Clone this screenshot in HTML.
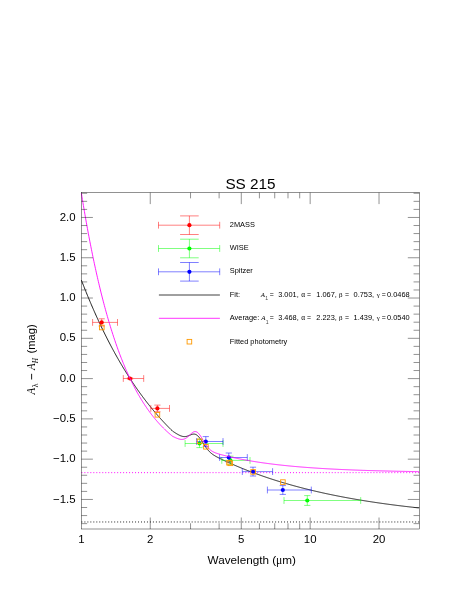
<!DOCTYPE html>
<html><head><meta charset="utf-8"><title>SS 215</title>
<style>html,body{margin:0;padding:0;background:#fff;}svg{display:block;will-change:transform;}</style></head>
<body>
<svg width="457" height="591" viewBox="0 0 457 591">
<rect x="0" y="0" width="457" height="591" fill="#fff"/>
<line x1="81.40" y1="521.97" x2="419.30" y2="521.97" stroke="#000" stroke-width="0.85" stroke-dasharray="1.0 1.98"/>
<line x1="81.40" y1="472.65" x2="419.30" y2="472.65" stroke="#f0f" stroke-width="0.95" stroke-dasharray="1.0 1.98"/>
<path d="M81.40,280.18 L81.90,281.48 L82.40,282.77 L82.90,284.05 L83.40,285.32 L83.90,286.59 L84.40,287.85 L84.90,289.10 L85.40,290.35 L85.90,291.59 L86.40,292.82 L86.90,294.05 L87.40,295.27 L87.90,296.49 L88.40,297.69 L88.90,298.89 L89.40,300.09 L89.90,301.28 L90.40,302.46 L90.90,303.64 L91.40,304.80 L91.90,305.97 L92.40,307.12 L92.90,308.28 L93.40,309.42 L93.90,310.56 L94.40,311.69 L94.90,312.82 L95.40,313.94 L95.90,315.05 L96.40,316.16 L96.90,317.26 L97.40,318.36 L97.90,319.45 L98.40,320.53 L98.90,321.61 L99.40,322.69 L99.90,323.75 L100.40,324.81 L100.90,325.87 L101.40,326.92 L101.90,327.96 L102.40,329.00 L102.90,330.04 L103.40,331.07 L103.90,332.09 L104.40,333.10 L104.90,334.12 L105.40,335.12 L105.90,336.12 L106.40,337.12 L106.90,338.11 L107.40,339.09 L107.90,340.07 L108.40,341.05 L108.90,342.02 L109.40,342.98 L109.90,343.94 L110.40,344.89 L110.90,345.84 L111.40,346.78 L111.90,347.72 L112.40,348.65 L112.90,349.58 L113.40,350.51 L113.90,351.42 L114.40,352.34 L114.90,353.25 L115.40,354.15 L115.90,355.05 L116.40,355.94 L116.90,356.83 L117.40,357.72 L117.90,358.60 L118.40,359.47 L118.90,360.34 L119.40,361.21 L119.90,362.07 L120.40,362.92 L120.90,363.78 L121.40,364.62 L121.90,365.47 L122.40,366.30 L122.90,367.14 L123.40,367.97 L123.90,368.79 L124.40,369.61 L124.90,370.43 L125.40,371.24 L125.90,372.05 L126.40,372.85 L126.90,373.65 L127.40,374.44 L127.90,375.23 L128.40,376.02 L128.90,376.80 L129.40,377.58 L129.90,378.35 L130.40,379.12 L130.90,379.89 L131.40,380.65 L131.90,381.40 L132.40,382.16 L132.90,382.91 L133.40,383.65 L133.90,384.39 L134.40,385.13 L134.90,385.86 L135.40,386.59 L135.90,387.32 L136.40,388.04 L136.90,388.75 L137.40,389.47 L137.90,390.18 L138.40,390.88 L138.90,391.58 L139.40,392.28 L139.90,392.98 L140.40,393.67 L140.90,394.36 L141.40,395.04 L141.90,395.72 L142.40,396.39 L142.90,397.07 L143.40,397.74 L143.90,398.40 L144.40,399.06 L144.90,399.72 L145.40,400.38 L145.90,401.03 L146.40,401.68 L146.90,402.32 L147.40,402.96 L147.90,403.60 L148.40,404.23 L148.90,404.86 L149.40,405.49 L149.90,406.11 L150.40,406.73 L150.90,407.35 L151.40,407.97 L151.90,408.58 L152.40,409.18 L152.90,409.79 L153.40,410.39 L153.90,410.99 L154.40,411.58 L154.90,412.17 L155.40,412.76 L155.90,413.34 L156.40,413.93 L156.90,414.50 L157.40,415.08 L157.90,415.65 L158.40,416.22 L158.90,416.79 L159.40,417.35 L159.90,417.91 L160.40,418.47 L160.90,419.02 L161.40,419.58 L161.90,420.12 L162.40,420.67 L162.90,421.21 L163.40,421.75 L163.90,422.29 L164.40,422.82 L164.90,423.35 L165.40,423.88 L165.90,424.41 L166.40,424.93 L166.90,425.45 L167.40,425.96 L167.90,426.48 L168.40,426.99 L168.90,427.50 L169.40,428.00 L169.90,428.50 L170.40,429.00 L170.90,429.50 L171.40,429.99 L171.90,430.48 L172.40,430.97 L172.90,431.31 L173.40,431.65 L173.90,431.98 L174.40,432.31 L174.90,432.64 L175.40,432.96 L175.90,433.27 L176.40,433.58 L176.90,433.88 L177.40,434.17 L177.90,434.46 L178.40,434.73 L178.90,434.99 L179.40,435.24 L179.90,435.47 L180.40,435.69 L180.90,435.89 L181.40,436.06 L181.90,436.22 L182.40,436.35 L182.90,436.46 L183.40,436.54 L183.90,436.59 L184.40,436.61 L184.90,436.60 L185.40,436.57 L185.90,436.50 L186.40,436.41 L186.90,436.29 L187.40,436.14 L187.90,435.98 L188.40,435.79 L188.90,435.60 L189.40,435.39 L189.90,435.18 L190.40,434.97 L190.90,434.77 L191.40,434.58 L191.90,434.42 L192.40,434.28 L192.90,434.17 L193.40,434.11 L193.90,434.09 L194.40,434.12 L194.90,434.20 L195.40,434.34 L195.90,434.55 L196.40,434.81 L196.90,435.14 L197.40,435.53 L197.90,435.97 L198.40,436.48 L198.90,437.04 L199.40,437.65 L199.90,438.30 L200.40,438.99 L200.90,439.71 L201.40,440.46 L201.90,441.23 L202.40,442.01 L202.90,442.79 L203.40,443.58 L203.90,444.36 L204.40,445.13 L204.90,445.89 L205.40,446.62 L205.90,447.34 L206.40,448.03 L206.90,448.69 L207.40,449.32 L207.90,449.93 L208.40,450.51 L208.90,451.05 L209.40,451.57 L209.90,452.06 L210.40,452.53 L210.90,452.97 L211.40,453.39 L211.90,453.78 L212.40,454.16 L212.90,454.52 L213.40,454.86 L213.90,455.19 L214.40,455.51 L214.90,455.81 L215.40,456.11 L215.90,456.39 L216.40,456.67 L216.90,456.94 L217.40,457.21 L217.90,457.47 L218.40,457.73 L218.90,457.98 L219.40,458.23 L219.90,458.48 L220.40,458.72 L220.90,458.97 L221.40,459.21 L221.90,459.45 L222.40,459.69 L222.90,459.92 L223.40,460.16 L223.90,460.39 L224.40,460.63 L224.90,460.86 L225.40,461.09 L225.90,461.32 L226.40,461.55 L226.90,461.78 L227.40,462.01 L227.90,462.23 L228.40,462.46 L228.90,462.69 L229.40,462.91 L229.90,463.13 L230.40,463.36 L230.90,463.58 L231.40,463.80 L231.90,464.02 L232.40,464.24 L232.90,464.46 L233.40,464.67 L233.90,464.89 L234.40,465.11 L234.90,465.32 L235.40,465.54 L235.90,465.75 L236.40,465.96 L236.90,466.17 L237.40,466.39 L237.90,466.60 L238.40,466.81 L238.90,467.01 L239.40,467.22 L239.90,467.43 L240.40,467.63 L240.90,467.84 L241.40,468.05 L241.90,468.25 L242.40,468.45 L242.90,468.65 L243.40,468.86 L243.90,469.06 L244.40,469.26 L244.90,469.46 L245.40,469.66 L245.90,469.85 L246.40,470.05 L246.90,470.25 L247.40,470.44 L247.90,470.64 L248.40,470.83 L248.90,471.03 L249.40,471.22 L249.90,471.41 L250.40,471.60 L250.90,471.79 L251.40,471.98 L251.90,472.17 L252.40,472.36 L252.90,472.55 L253.40,472.73 L253.90,472.92 L254.40,473.11 L254.90,473.29 L255.40,473.47 L255.90,473.66 L256.40,473.84 L256.90,474.02 L257.40,474.20 L257.90,474.38 L258.40,474.56 L258.90,474.74 L259.40,474.92 L259.90,475.10 L260.40,475.28 L260.90,475.45 L261.40,475.63 L261.90,475.81 L262.40,475.98 L262.90,476.15 L263.40,476.33 L263.90,476.50 L264.40,476.67 L264.90,476.84 L265.40,477.01 L265.90,477.18 L266.40,477.35 L266.90,477.52 L267.40,477.69 L267.90,477.86 L268.40,478.03 L268.90,478.19 L269.40,478.36 L269.90,478.52 L270.40,478.69 L270.90,478.85 L271.40,479.01 L271.90,479.18 L272.40,479.34 L272.90,479.50 L273.40,479.66 L273.90,479.82 L274.40,479.98 L274.90,480.14 L275.40,480.30 L275.90,480.45 L276.40,480.61 L276.90,480.77 L277.40,480.92 L277.90,481.08 L278.40,481.23 L278.90,481.39 L279.40,481.54 L279.90,481.69 L280.40,481.85 L280.90,482.00 L281.40,482.15 L281.90,482.30 L282.40,482.45 L282.90,482.60 L283.40,482.75 L283.90,482.90 L284.40,483.04 L284.90,483.19 L285.40,483.34 L285.90,483.48 L286.40,483.63 L286.90,483.78 L287.40,483.92 L287.90,484.06 L288.40,484.21 L288.90,484.35 L289.40,484.49 L289.90,484.63 L290.40,484.78 L290.90,484.92 L291.40,485.06 L291.90,485.20 L292.40,485.33 L292.90,485.47 L293.40,485.61 L293.90,485.75 L294.40,485.89 L294.90,486.02 L295.40,486.16 L295.90,486.29 L296.40,486.43 L296.90,486.56 L297.40,486.70 L297.90,486.83 L298.40,486.96 L298.90,487.10 L299.40,487.23 L299.90,487.36 L300.40,487.49 L300.90,487.62 L301.40,487.75 L301.90,487.88 L302.40,488.01 L302.90,488.14 L303.40,488.27 L303.90,488.39 L304.40,488.52 L304.90,488.65 L305.40,488.77 L305.90,488.90 L306.40,489.02 L306.90,489.15 L307.40,489.27 L307.90,489.40 L308.40,489.52 L308.90,489.64 L309.40,489.76 L309.90,489.89 L310.40,490.01 L310.90,490.13 L311.40,490.25 L311.90,490.37 L312.40,490.49 L312.90,490.61 L313.40,490.73 L313.90,490.84 L314.40,490.96 L314.90,491.08 L315.40,491.20 L315.90,491.31 L316.40,491.43 L316.90,491.54 L317.40,491.66 L317.90,491.77 L318.40,491.89 L318.90,492.00 L319.40,492.12 L319.90,492.23 L320.40,492.34 L320.90,492.45 L321.40,492.56 L321.90,492.68 L322.40,492.79 L322.90,492.90 L323.40,493.01 L323.90,493.12 L324.40,493.23 L324.90,493.33 L325.40,493.44 L325.90,493.55 L326.40,493.66 L326.90,493.77 L327.40,493.87 L327.90,493.98 L328.40,494.08 L328.90,494.19 L329.40,494.29 L329.90,494.40 L330.40,494.50 L330.90,494.61 L331.40,494.71 L331.90,494.81 L332.40,494.92 L332.90,495.02 L333.40,495.12 L333.90,495.22 L334.40,495.32 L334.90,495.42 L335.40,495.53 L335.90,495.63 L336.40,495.72 L336.90,495.82 L337.40,495.92 L337.90,496.02 L338.40,496.12 L338.90,496.22 L339.40,496.31 L339.90,496.41 L340.40,496.51 L340.90,496.60 L341.40,496.70 L341.90,496.80 L342.40,496.89 L342.90,496.99 L343.40,497.08 L343.90,497.18 L344.40,497.27 L344.90,497.36 L345.40,497.46 L345.90,497.55 L346.40,497.64 L346.90,497.73 L347.40,497.82 L347.90,497.92 L348.40,498.01 L348.90,498.10 L349.40,498.19 L349.90,498.28 L350.40,498.37 L350.90,498.46 L351.40,498.55 L351.90,498.63 L352.40,498.72 L352.90,498.81 L353.40,498.90 L353.90,498.99 L354.40,499.07 L354.90,499.16 L355.40,499.25 L355.90,499.33 L356.40,499.42 L356.90,499.50 L357.40,499.59 L357.90,499.67 L358.40,499.76 L358.90,499.84 L359.40,499.92 L359.90,500.01 L360.40,500.09 L360.90,500.17 L361.40,500.26 L361.90,500.34 L362.40,500.42 L362.90,500.50 L363.40,500.58 L363.90,500.66 L364.40,500.74 L364.90,500.82 L365.40,500.90 L365.90,500.98 L366.40,501.06 L366.90,501.14 L367.40,501.22 L367.90,501.30 L368.40,501.38 L368.90,501.46 L369.40,501.53 L369.90,501.61 L370.40,501.69 L370.90,501.76 L371.40,501.84 L371.90,501.92 L372.40,501.99 L372.90,502.07 L373.40,502.14 L373.90,502.22 L374.40,502.29 L374.90,502.37 L375.40,502.44 L375.90,502.52 L376.40,502.59 L376.90,502.66 L377.40,502.74 L377.90,502.81 L378.40,502.88 L378.90,502.95 L379.40,503.03 L379.90,503.10 L380.40,503.17 L380.90,503.24 L381.40,503.31 L381.90,503.38 L382.40,503.45 L382.90,503.52 L383.40,503.59 L383.90,503.66 L384.40,503.73 L384.90,503.80 L385.40,503.87 L385.90,503.94 L386.40,504.00 L386.90,504.07 L387.40,504.14 L387.90,504.21 L388.40,504.27 L388.90,504.34 L389.40,504.41 L389.90,504.47 L390.40,504.54 L390.90,504.61 L391.40,504.67 L391.90,504.74 L392.40,504.80 L392.90,504.87 L393.40,504.93 L393.90,505.00 L394.40,505.06 L394.90,505.13 L395.40,505.19 L395.90,505.25 L396.40,505.32 L396.90,505.38 L397.40,505.44 L397.90,505.50 L398.40,505.57 L398.90,505.63 L399.40,505.69 L399.90,505.75 L400.40,505.81 L400.90,505.87 L401.40,505.94 L401.90,506.00 L402.40,506.06 L402.90,506.12 L403.40,506.18 L403.90,506.24 L404.40,506.30 L404.90,506.36 L405.40,506.41 L405.90,506.47 L406.40,506.53 L406.90,506.59 L407.40,506.65 L407.90,506.71 L408.40,506.76 L408.90,506.82 L409.40,506.88 L409.90,506.94 L410.40,506.99 L410.90,507.05 L411.40,507.11 L411.90,507.16 L412.40,507.22 L412.90,507.27 L413.40,507.33 L413.90,507.39 L414.40,507.44 L414.90,507.50 L415.40,507.55 L415.90,507.60 L416.40,507.66 L416.90,507.71 L417.40,507.77 L417.90,507.82 L418.40,507.87 L418.90,507.93" fill="none" stroke="#000" stroke-width="0.88" stroke-linejoin="round"/>
<line x1="92.60" y1="322.40" x2="117.50" y2="322.40" stroke="#f00" stroke-width="0.5" />
<line x1="92.60" y1="319.00" x2="92.60" y2="325.80" stroke="#f00" stroke-width="0.5" />
<line x1="117.50" y1="319.00" x2="117.50" y2="325.80" stroke="#f00" stroke-width="0.5" />
<line x1="101.70" y1="318.80" x2="101.70" y2="326.00" stroke="#f00" stroke-width="0.5" />
<line x1="98.60" y1="318.80" x2="104.80" y2="318.80" stroke="#f00" stroke-width="0.5" />
<line x1="98.60" y1="326.00" x2="104.80" y2="326.00" stroke="#f00" stroke-width="0.5" />
<circle cx="101.70" cy="322.40" r="2.1" fill="#f00"/>
<line x1="123.30" y1="378.50" x2="143.70" y2="378.50" stroke="#f00" stroke-width="0.5" />
<line x1="123.30" y1="375.10" x2="123.30" y2="381.90" stroke="#f00" stroke-width="0.5" />
<line x1="143.70" y1="375.10" x2="143.70" y2="381.90" stroke="#f00" stroke-width="0.5" />
<line x1="130.00" y1="377.90" x2="130.00" y2="379.10" stroke="#f00" stroke-width="0.5" />
<line x1="126.90" y1="377.90" x2="133.10" y2="377.90" stroke="#f00" stroke-width="0.5" />
<line x1="126.90" y1="379.10" x2="133.10" y2="379.10" stroke="#f00" stroke-width="0.5" />
<circle cx="130.00" cy="378.50" r="2.1" fill="#f00"/>
<line x1="150.80" y1="408.40" x2="169.50" y2="408.40" stroke="#f00" stroke-width="0.5" />
<line x1="150.80" y1="405.00" x2="150.80" y2="411.80" stroke="#f00" stroke-width="0.5" />
<line x1="169.50" y1="405.00" x2="169.50" y2="411.80" stroke="#f00" stroke-width="0.5" />
<line x1="157.40" y1="405.10" x2="157.40" y2="411.70" stroke="#f00" stroke-width="0.5" />
<line x1="154.30" y1="405.10" x2="160.50" y2="405.10" stroke="#f00" stroke-width="0.5" />
<line x1="154.30" y1="411.70" x2="160.50" y2="411.70" stroke="#f00" stroke-width="0.5" />
<circle cx="157.40" cy="408.40" r="2.1" fill="#f00"/>
<line x1="185.10" y1="443.50" x2="223.00" y2="443.50" stroke="#0f0" stroke-width="0.5" />
<line x1="185.10" y1="440.10" x2="185.10" y2="446.90" stroke="#0f0" stroke-width="0.5" />
<line x1="223.00" y1="440.10" x2="223.00" y2="446.90" stroke="#0f0" stroke-width="0.5" />
<line x1="199.50" y1="439.40" x2="199.50" y2="447.60" stroke="#0f0" stroke-width="0.5" />
<line x1="196.40" y1="439.40" x2="202.60" y2="439.40" stroke="#0f0" stroke-width="0.5" />
<line x1="196.40" y1="447.60" x2="202.60" y2="447.60" stroke="#0f0" stroke-width="0.5" />
<circle cx="199.50" cy="443.50" r="2.1" fill="#0f0"/>
<line x1="221.80" y1="460.40" x2="250.00" y2="460.40" stroke="#0f0" stroke-width="0.5" />
<line x1="221.80" y1="457.00" x2="221.80" y2="463.80" stroke="#0f0" stroke-width="0.5" />
<line x1="250.00" y1="457.00" x2="250.00" y2="463.80" stroke="#0f0" stroke-width="0.5" />
<line x1="230.40" y1="456.20" x2="230.40" y2="464.60" stroke="#0f0" stroke-width="0.5" />
<line x1="227.30" y1="456.20" x2="233.50" y2="456.20" stroke="#0f0" stroke-width="0.5" />
<line x1="227.30" y1="464.60" x2="233.50" y2="464.60" stroke="#0f0" stroke-width="0.5" />
<circle cx="230.40" cy="460.40" r="2.1" fill="#0f0"/>
<line x1="284.00" y1="500.50" x2="360.70" y2="500.50" stroke="#0f0" stroke-width="0.5" />
<line x1="284.00" y1="497.10" x2="284.00" y2="503.90" stroke="#0f0" stroke-width="0.5" />
<line x1="360.70" y1="497.10" x2="360.70" y2="503.90" stroke="#0f0" stroke-width="0.5" />
<line x1="307.30" y1="495.60" x2="307.30" y2="505.40" stroke="#0f0" stroke-width="0.5" />
<line x1="304.20" y1="495.60" x2="310.40" y2="495.60" stroke="#0f0" stroke-width="0.5" />
<line x1="304.20" y1="505.40" x2="310.40" y2="505.40" stroke="#0f0" stroke-width="0.5" />
<circle cx="307.30" cy="500.50" r="2.1" fill="#0f0"/>
<line x1="196.60" y1="441.50" x2="223.00" y2="441.50" stroke="#00f" stroke-width="0.5" />
<line x1="196.60" y1="438.10" x2="196.60" y2="444.90" stroke="#00f" stroke-width="0.5" />
<line x1="223.00" y1="438.10" x2="223.00" y2="444.90" stroke="#00f" stroke-width="0.5" />
<line x1="205.80" y1="436.60" x2="205.80" y2="446.40" stroke="#00f" stroke-width="0.5" />
<line x1="202.70" y1="436.60" x2="208.90" y2="436.60" stroke="#00f" stroke-width="0.5" />
<line x1="202.70" y1="446.40" x2="208.90" y2="446.40" stroke="#00f" stroke-width="0.5" />
<circle cx="205.80" cy="441.50" r="2.1" fill="#00f"/>
<line x1="219.60" y1="457.50" x2="247.30" y2="457.50" stroke="#00f" stroke-width="0.5" />
<line x1="219.60" y1="454.10" x2="219.60" y2="460.90" stroke="#00f" stroke-width="0.5" />
<line x1="247.30" y1="454.10" x2="247.30" y2="460.90" stroke="#00f" stroke-width="0.5" />
<line x1="228.80" y1="453.00" x2="228.80" y2="462.00" stroke="#00f" stroke-width="0.5" />
<line x1="225.70" y1="453.00" x2="231.90" y2="453.00" stroke="#00f" stroke-width="0.5" />
<line x1="225.70" y1="462.00" x2="231.90" y2="462.00" stroke="#00f" stroke-width="0.5" />
<circle cx="228.80" cy="457.50" r="2.1" fill="#00f"/>
<line x1="242.30" y1="471.60" x2="272.60" y2="471.60" stroke="#00f" stroke-width="0.5" />
<line x1="242.30" y1="468.20" x2="242.30" y2="475.00" stroke="#00f" stroke-width="0.5" />
<line x1="272.60" y1="468.20" x2="272.60" y2="475.00" stroke="#00f" stroke-width="0.5" />
<line x1="253.00" y1="467.20" x2="253.00" y2="476.00" stroke="#00f" stroke-width="0.5" />
<line x1="249.90" y1="467.20" x2="256.10" y2="467.20" stroke="#00f" stroke-width="0.5" />
<line x1="249.90" y1="476.00" x2="256.10" y2="476.00" stroke="#00f" stroke-width="0.5" />
<circle cx="253.00" cy="471.60" r="2.1" fill="#00f"/>
<line x1="267.40" y1="490.00" x2="311.30" y2="490.00" stroke="#00f" stroke-width="0.5" />
<line x1="267.40" y1="486.60" x2="267.40" y2="493.40" stroke="#00f" stroke-width="0.5" />
<line x1="311.30" y1="486.60" x2="311.30" y2="493.40" stroke="#00f" stroke-width="0.5" />
<line x1="282.80" y1="485.60" x2="282.80" y2="494.40" stroke="#00f" stroke-width="0.5" />
<line x1="279.70" y1="485.60" x2="285.90" y2="485.60" stroke="#00f" stroke-width="0.5" />
<line x1="279.70" y1="494.40" x2="285.90" y2="494.40" stroke="#00f" stroke-width="0.5" />
<circle cx="282.80" cy="490.00" r="2.1" fill="#00f"/>
<path d="M81.40,193.24 L81.90,196.35 L82.40,199.42 L82.90,202.46 L83.40,205.47 L83.90,208.44 L84.40,211.38 L84.90,214.28 L85.40,217.16 L85.90,220.00 L86.40,222.81 L86.90,225.59 L87.40,228.34 L87.90,231.06 L88.40,233.75 L88.90,236.41 L89.40,239.03 L89.90,241.63 L90.40,244.20 L90.90,246.74 L91.40,249.26 L91.90,251.74 L92.40,254.20 L92.90,256.63 L93.40,259.04 L93.90,261.41 L94.40,263.76 L94.90,266.09 L95.40,268.38 L95.90,270.66 L96.40,272.90 L96.90,275.13 L97.40,277.32 L97.90,279.50 L98.40,281.65 L98.90,283.77 L99.40,285.87 L99.90,287.95 L100.40,290.01 L100.90,292.04 L101.40,294.05 L101.90,296.03 L102.40,298.00 L102.90,299.94 L103.40,301.86 L103.90,303.76 L104.40,305.64 L104.90,307.50 L105.40,309.34 L105.90,311.16 L106.40,312.95 L106.90,314.73 L107.40,316.49 L107.90,318.22 L108.40,319.94 L108.90,321.64 L109.40,323.32 L109.90,324.98 L110.40,326.63 L110.90,328.25 L111.40,329.86 L111.90,331.45 L112.40,333.02 L112.90,334.57 L113.40,336.11 L113.90,337.63 L114.40,339.13 L114.90,340.61 L115.40,342.08 L115.90,343.54 L116.40,344.97 L116.90,346.39 L117.40,347.80 L117.90,349.19 L118.40,350.56 L118.90,351.92 L119.40,353.26 L119.90,354.59 L120.40,355.90 L120.90,357.20 L121.40,358.49 L121.90,359.76 L122.40,361.01 L122.90,362.25 L123.40,363.48 L123.90,364.70 L124.40,365.90 L124.90,367.09 L125.40,368.26 L125.90,369.42 L126.40,370.57 L126.90,371.71 L127.40,372.83 L127.90,373.94 L128.40,375.04 L128.90,376.12 L129.40,377.20 L129.90,378.26 L130.40,379.31 L130.90,380.35 L131.40,381.38 L131.90,382.39 L132.40,383.40 L132.90,384.39 L133.40,385.37 L133.90,386.34 L134.40,387.30 L134.90,388.25 L135.40,389.19 L135.90,390.12 L136.40,391.04 L136.90,391.95 L137.40,392.84 L137.90,393.73 L138.40,394.61 L138.90,395.48 L139.40,396.34 L139.90,397.19 L140.40,398.03 L140.90,398.86 L141.40,399.68 L141.90,400.49 L142.40,401.29 L142.90,402.09 L143.40,402.87 L143.90,403.65 L144.40,404.41 L144.90,405.17 L145.40,405.92 L145.90,406.67 L146.40,407.40 L146.90,408.13 L147.40,408.85 L147.90,409.56 L148.40,410.26 L148.90,410.95 L149.40,411.64 L149.90,412.32 L150.40,412.99 L150.90,413.65 L151.40,414.31 L151.90,414.96 L152.40,415.60 L152.90,416.23 L153.40,416.86 L153.90,417.48 L154.40,418.10 L154.90,418.70 L155.40,419.30 L155.90,419.90 L156.40,420.48 L156.90,421.06 L157.40,421.64 L157.90,422.21 L158.40,422.77 L158.90,423.32 L159.40,423.87 L159.90,424.41 L160.40,424.95 L160.90,425.48 L161.40,426.01 L161.90,426.52 L162.40,427.04 L162.90,427.55 L163.40,428.05 L163.90,428.54 L164.40,429.03 L164.90,429.52 L165.40,430.00 L165.90,430.47 L166.40,430.94 L166.90,431.41 L167.40,431.87 L167.90,432.32 L168.40,432.77 L168.90,433.21 L169.40,433.65 L169.90,434.08 L170.40,434.51 L170.90,434.93 L171.40,435.34 L171.90,435.75 L172.40,436.16 L172.90,436.42 L173.40,436.68 L173.90,436.92 L174.40,437.17 L174.90,437.40 L175.40,437.63 L175.90,437.85 L176.40,438.07 L176.90,438.27 L177.40,438.47 L177.90,438.65 L178.40,438.82 L178.90,438.97 L179.40,439.10 L179.90,439.21 L180.40,439.30 L180.90,439.37 L181.40,439.41 L181.90,439.42 L182.40,439.40 L182.90,439.34 L183.40,439.25 L183.90,439.12 L184.40,438.95 L184.90,438.74 L185.40,438.50 L185.90,438.21 L186.40,437.89 L186.90,437.53 L187.40,437.14 L187.90,436.72 L188.40,436.28 L188.90,435.82 L189.40,435.35 L189.90,434.87 L190.40,434.39 L190.90,433.92 L191.40,433.48 L191.90,433.06 L192.40,432.68 L192.90,432.34 L193.40,432.05 L193.90,431.83 L194.40,431.67 L194.90,431.59 L195.40,431.58 L195.90,431.66 L196.40,431.81 L196.90,432.05 L197.40,432.37 L197.90,432.77 L198.40,433.25 L198.90,433.80 L199.40,434.42 L199.90,435.09 L200.40,435.81 L200.90,436.58 L201.40,437.38 L201.90,438.21 L202.40,439.05 L202.90,439.91 L203.40,440.76 L203.90,441.61 L204.40,442.44 L204.90,443.25 L205.40,444.04 L205.90,444.80 L206.40,445.53 L206.90,446.22 L207.40,446.87 L207.90,447.48 L208.40,448.06 L208.90,448.59 L209.40,449.09 L209.90,449.56 L210.40,449.98 L210.90,450.38 L211.40,450.74 L211.90,451.08 L212.40,451.39 L212.90,451.68 L213.40,451.94 L213.90,452.19 L214.40,452.42 L214.90,452.64 L215.40,452.84 L215.90,453.03 L216.40,453.21 L216.90,453.38 L217.40,453.55 L217.90,453.71 L218.40,453.86 L218.90,454.01 L219.40,454.16 L219.90,454.30 L220.40,454.44 L220.90,454.58 L221.40,454.71 L221.90,454.84 L222.40,454.97 L222.90,455.10 L223.40,455.23 L223.90,455.36 L224.40,455.48 L224.90,455.61 L225.40,455.73 L225.90,455.85 L226.40,455.98 L226.90,456.10 L227.40,456.22 L227.90,456.33 L228.40,456.45 L228.90,456.57 L229.40,456.68 L229.90,456.80 L230.40,456.91 L230.90,457.03 L231.40,457.14 L231.90,457.25 L232.40,457.36 L232.90,457.47 L233.40,457.58 L233.90,457.69 L234.40,457.80 L234.90,457.91 L235.40,458.01 L235.90,458.12 L236.40,458.22 L236.90,458.33 L237.40,458.43 L237.90,458.53 L238.40,458.64 L238.90,458.74 L239.40,458.84 L239.90,458.94 L240.40,459.04 L240.90,459.14 L241.40,459.23 L241.90,459.33 L242.40,459.43 L242.90,459.52 L243.40,459.62 L243.90,459.71 L244.40,459.80 L244.90,459.90 L245.40,459.99 L245.90,460.08 L246.40,460.17 L246.90,460.26 L247.40,460.35 L247.90,460.44 L248.40,460.53 L248.90,460.61 L249.40,460.70 L249.90,460.79 L250.40,460.87 L250.90,460.96 L251.40,461.04 L251.90,461.13 L252.40,461.21 L252.90,461.29 L253.40,461.37 L253.90,461.46 L254.40,461.54 L254.90,461.62 L255.40,461.70 L255.90,461.78 L256.40,461.85 L256.90,461.93 L257.40,462.01 L257.90,462.09 L258.40,462.16 L258.90,462.24 L259.40,462.31 L259.90,462.39 L260.40,462.46 L260.90,462.54 L261.40,462.61 L261.90,462.68 L262.40,462.75 L262.90,462.82 L263.40,462.90 L263.90,462.97 L264.40,463.04 L264.90,463.10 L265.40,463.17 L265.90,463.24 L266.40,463.31 L266.90,463.38 L267.40,463.44 L267.90,463.51 L268.40,463.58 L268.90,463.64 L269.40,463.71 L269.90,463.77 L270.40,463.84 L270.90,463.90 L271.40,463.96 L271.90,464.03 L272.40,464.09 L272.90,464.15 L273.40,464.21 L273.90,464.27 L274.40,464.33 L274.90,464.39 L275.40,464.45 L275.90,464.51 L276.40,464.57 L276.90,464.63 L277.40,464.69 L277.90,464.74 L278.40,464.80 L278.90,464.86 L279.40,464.91 L279.90,464.97 L280.40,465.02 L280.90,465.08 L281.40,465.13 L281.90,465.19 L282.40,465.24 L282.90,465.30 L283.40,465.35 L283.90,465.40 L284.40,465.45 L284.90,465.51 L285.40,465.56 L285.90,465.61 L286.40,465.66 L286.90,465.71 L287.40,465.76 L287.90,465.81 L288.40,465.86 L288.90,465.91 L289.40,465.96 L289.90,466.01 L290.40,466.05 L290.90,466.10 L291.40,466.15 L291.90,466.20 L292.40,466.24 L292.90,466.29 L293.40,466.33 L293.90,466.38 L294.40,466.43 L294.90,466.47 L295.40,466.51 L295.90,466.56 L296.40,466.60 L296.90,466.65 L297.40,466.69 L297.90,466.73 L298.40,466.78 L298.90,466.82 L299.40,466.86 L299.90,466.90 L300.40,466.94 L300.90,466.98 L301.40,467.03 L301.90,467.07 L302.40,467.11 L302.90,467.15 L303.40,467.19 L303.90,467.23 L304.40,467.27 L304.90,467.30 L305.40,467.34 L305.90,467.38 L306.40,467.42 L306.90,467.46 L307.40,467.49 L307.90,467.53 L308.40,467.57 L308.90,467.61 L309.40,467.64 L309.90,467.68 L310.40,467.71 L310.90,467.75 L311.40,467.78 L311.90,467.82 L312.40,467.85 L312.90,467.89 L313.40,467.92 L313.90,467.96 L314.40,467.99 L314.90,468.03 L315.40,468.06 L315.90,468.09 L316.40,468.12 L316.90,468.16 L317.40,468.19 L317.90,468.22 L318.40,468.25 L318.90,468.29 L319.40,468.32 L319.90,468.35 L320.40,468.38 L320.90,468.41 L321.40,468.44 L321.90,468.47 L322.40,468.50 L322.90,468.53 L323.40,468.56 L323.90,468.59 L324.40,468.62 L324.90,468.65 L325.40,468.68 L325.90,468.71 L326.40,468.74 L326.90,468.76 L327.40,468.79 L327.90,468.82 L328.40,468.85 L328.90,468.87 L329.40,468.90 L329.90,468.93 L330.40,468.96 L330.90,468.98 L331.40,469.01 L331.90,469.04 L332.40,469.06 L332.90,469.09 L333.40,469.11 L333.90,469.14 L334.40,469.16 L334.90,469.19 L335.40,469.21 L335.90,469.24 L336.40,469.26 L336.90,469.29 L337.40,469.31 L337.90,469.34 L338.40,469.36 L338.90,469.38 L339.40,469.41 L339.90,469.43 L340.40,469.45 L340.90,469.48 L341.40,469.50 L341.90,469.52 L342.40,469.55 L342.90,469.57 L343.40,469.59 L343.90,469.61 L344.40,469.63 L344.90,469.66 L345.40,469.68 L345.90,469.70 L346.40,469.72 L346.90,469.74 L347.40,469.76 L347.90,469.78 L348.40,469.80 L348.90,469.83 L349.40,469.85 L349.90,469.87 L350.40,469.89 L350.90,469.91 L351.40,469.93 L351.90,469.95 L352.40,469.97 L352.90,469.98 L353.40,470.00 L353.90,470.02 L354.40,470.04 L354.90,470.06 L355.40,470.08 L355.90,470.10 L356.40,470.12 L356.90,470.13 L357.40,470.15 L357.90,470.17 L358.40,470.19 L358.90,470.21 L359.40,470.22 L359.90,470.24 L360.40,470.26 L360.90,470.28 L361.40,470.29 L361.90,470.31 L362.40,470.33 L362.90,470.34 L363.40,470.36 L363.90,470.38 L364.40,470.39 L364.90,470.41 L365.40,470.43 L365.90,470.44 L366.40,470.46 L366.90,470.47 L367.40,470.49 L367.90,470.51 L368.40,470.52 L368.90,470.54 L369.40,470.55 L369.90,470.57 L370.40,470.58 L370.90,470.60 L371.40,470.61 L371.90,470.63 L372.40,470.64 L372.90,470.66 L373.40,470.67 L373.90,470.68 L374.40,470.70 L374.90,470.71 L375.40,470.73 L375.90,470.74 L376.40,470.75 L376.90,470.77 L377.40,470.78 L377.90,470.80 L378.40,470.81 L378.90,470.82 L379.40,470.84 L379.90,470.85 L380.40,470.86 L380.90,470.87 L381.40,470.89 L381.90,470.90 L382.40,470.91 L382.90,470.93 L383.40,470.94 L383.90,470.95 L384.40,470.96 L384.90,470.97 L385.40,470.99 L385.90,471.00 L386.40,471.01 L386.90,471.02 L387.40,471.03 L387.90,471.05 L388.40,471.06 L388.90,471.07 L389.40,471.08 L389.90,471.09 L390.40,471.10 L390.90,471.11 L391.40,471.13 L391.90,471.14 L392.40,471.15 L392.90,471.16 L393.40,471.17 L393.90,471.18 L394.40,471.19 L394.90,471.20 L395.40,471.21 L395.90,471.22 L396.40,471.23 L396.90,471.24 L397.40,471.25 L397.90,471.26 L398.40,471.27 L398.90,471.28 L399.40,471.29 L399.90,471.30 L400.40,471.31 L400.90,471.32 L401.40,471.33 L401.90,471.34 L402.40,471.35 L402.90,471.36 L403.40,471.37 L403.90,471.38 L404.40,471.39 L404.90,471.40 L405.40,471.41 L405.90,471.41 L406.40,471.42 L406.90,471.43 L407.40,471.44 L407.90,471.45 L408.40,471.46 L408.90,471.47 L409.40,471.48 L409.90,471.48 L410.40,471.49 L410.90,471.50 L411.40,471.51 L411.90,471.52 L412.40,471.53 L412.90,471.53 L413.40,471.54 L413.90,471.55 L414.40,471.56 L414.90,471.57 L415.40,471.57 L415.90,471.58 L416.40,471.59 L416.90,471.60 L417.40,471.60 L417.90,471.61 L418.40,471.62 L418.90,471.63" fill="none" stroke="#f0f" stroke-width="0.88" stroke-linejoin="round"/>
<rect x="99.50" y="325.20" width="4.6" height="4.6" fill="none" stroke="#f90" stroke-width="0.9"/>
<rect x="155.10" y="412.50" width="4.6" height="4.6" fill="none" stroke="#f90" stroke-width="0.9"/>
<rect x="197.30" y="439.00" width="4.6" height="4.6" fill="none" stroke="#f90" stroke-width="0.9"/>
<rect x="203.60" y="444.50" width="4.6" height="4.6" fill="none" stroke="#f90" stroke-width="0.9"/>
<rect x="226.70" y="460.40" width="4.6" height="4.6" fill="none" stroke="#f90" stroke-width="0.9"/>
<rect x="228.00" y="461.00" width="4.6" height="4.6" fill="none" stroke="#f90" stroke-width="0.9"/>
<rect x="250.80" y="469.60" width="4.6" height="4.6" fill="none" stroke="#f90" stroke-width="0.9"/>
<rect x="280.60" y="479.80" width="4.6" height="4.6" fill="none" stroke="#f90" stroke-width="0.9"/>
<line x1="158.50" y1="225.20" x2="219.70" y2="225.20" stroke="#f00" stroke-width="0.5" />
<line x1="158.50" y1="221.80" x2="158.50" y2="228.60" stroke="#f00" stroke-width="0.5" />
<line x1="219.70" y1="221.80" x2="219.70" y2="228.60" stroke="#f00" stroke-width="0.5" />
<line x1="189.40" y1="215.90" x2="189.40" y2="234.50" stroke="#f00" stroke-width="0.5" />
<line x1="180.10" y1="215.90" x2="198.70" y2="215.90" stroke="#f00" stroke-width="0.5" />
<line x1="180.10" y1="234.50" x2="198.70" y2="234.50" stroke="#f00" stroke-width="0.5" />
<circle cx="189.40" cy="225.20" r="2.1" fill="#f00"/>
<line x1="158.50" y1="248.50" x2="219.70" y2="248.50" stroke="#0f0" stroke-width="0.5" />
<line x1="158.50" y1="245.10" x2="158.50" y2="251.90" stroke="#0f0" stroke-width="0.5" />
<line x1="219.70" y1="245.10" x2="219.70" y2="251.90" stroke="#0f0" stroke-width="0.5" />
<line x1="189.40" y1="239.20" x2="189.40" y2="257.80" stroke="#0f0" stroke-width="0.5" />
<line x1="180.10" y1="239.20" x2="198.70" y2="239.20" stroke="#0f0" stroke-width="0.5" />
<line x1="180.10" y1="257.80" x2="198.70" y2="257.80" stroke="#0f0" stroke-width="0.5" />
<circle cx="189.40" cy="248.50" r="2.1" fill="#0f0"/>
<line x1="158.50" y1="271.80" x2="219.70" y2="271.80" stroke="#00f" stroke-width="0.5" />
<line x1="158.50" y1="268.40" x2="158.50" y2="275.20" stroke="#00f" stroke-width="0.5" />
<line x1="219.70" y1="268.40" x2="219.70" y2="275.20" stroke="#00f" stroke-width="0.5" />
<line x1="189.40" y1="262.50" x2="189.40" y2="281.10" stroke="#00f" stroke-width="0.5" />
<line x1="180.10" y1="262.50" x2="198.70" y2="262.50" stroke="#00f" stroke-width="0.5" />
<line x1="180.10" y1="281.10" x2="198.70" y2="281.10" stroke="#00f" stroke-width="0.5" />
<circle cx="189.40" cy="271.80" r="2.1" fill="#00f"/>
<line x1="158.90" y1="295.00" x2="219.90" y2="295.00" stroke="#000" stroke-width="0.75" />
<line x1="158.90" y1="318.30" x2="219.90" y2="318.30" stroke="#f0f" stroke-width="0.8" />
<rect x="187.10" y="339.40" width="4.6" height="4.6" fill="none" stroke="#f90" stroke-width="0.9"/>
<text x="229.80" y="226.80" font-size="7.4" font-family="Liberation Sans, sans-serif" fill="#000" >2MASS</text>
<text x="229.80" y="250.10" font-size="7.4" font-family="Liberation Sans, sans-serif" fill="#000" >WISE</text>
<text x="229.80" y="273.40" font-size="7.4" font-family="Liberation Sans, sans-serif" fill="#000" >Spitzer</text>
<text x="229.80" y="343.60" font-size="7.4" font-family="Liberation Sans, sans-serif" fill="#000" >Fitted photometry</text>
<text x="229.80" y="296.60" font-size="7.4" font-family="Liberation Sans, sans-serif" fill="#000" >Fit:</text>
<text x="260.70" y="296.60" font-size="6.9" font-family="Liberation Serif, serif" fill="#000" font-style="italic">A</text>
<text x="265.30" y="300.30" font-size="5.2" font-family="Liberation Sans, sans-serif" fill="#000" fill-opacity="0.75">1</text>
<text x="269.80" y="296.60" font-size="6.9" font-family="Liberation Sans, sans-serif" fill="#000" >=</text>
<text x="278.20" y="296.60" font-size="7.4" font-family="Liberation Sans, sans-serif" fill="#000" >3.001,</text>
<text x="301.20" y="296.60" font-size="7.4" font-family="Liberation Serif, serif" fill="#000" >α</text>
<text x="307.00" y="296.60" font-size="6.9" font-family="Liberation Sans, sans-serif" fill="#000" >=</text>
<text x="316.30" y="296.60" font-size="7.4" font-family="Liberation Sans, sans-serif" fill="#000" >1.067,</text>
<text x="339.00" y="296.60" font-size="6.9" font-family="Liberation Serif, serif" fill="#000" >β</text>
<text x="344.90" y="296.60" font-size="6.9" font-family="Liberation Sans, sans-serif" fill="#000" >=</text>
<text x="353.60" y="296.60" font-size="7.4" font-family="Liberation Sans, sans-serif" fill="#000" >0.753,</text>
<text x="376.80" y="296.60" font-size="6.9" font-family="Liberation Serif, serif" fill="#000" >γ</text>
<text x="381.70" y="296.60" font-size="6.9" font-family="Liberation Sans, sans-serif" fill="#000" >=</text>
<text x="387.00" y="296.60" font-size="7.4" font-family="Liberation Sans, sans-serif" fill="#000" >0.0468</text>
<text x="229.80" y="319.90" font-size="7.4" font-family="Liberation Sans, sans-serif" fill="#000" >Average:</text>
<text x="261.20" y="319.90" font-size="6.9" font-family="Liberation Serif, serif" fill="#000" font-style="italic">A</text>
<text x="265.80" y="323.60" font-size="5.2" font-family="Liberation Sans, sans-serif" fill="#000" fill-opacity="0.75">1</text>
<text x="269.80" y="319.90" font-size="6.9" font-family="Liberation Sans, sans-serif" fill="#000" >=</text>
<text x="278.20" y="319.90" font-size="7.4" font-family="Liberation Sans, sans-serif" fill="#000" >3.468,</text>
<text x="301.20" y="319.90" font-size="7.4" font-family="Liberation Serif, serif" fill="#000" >α</text>
<text x="307.00" y="319.90" font-size="6.9" font-family="Liberation Sans, sans-serif" fill="#000" >=</text>
<text x="316.30" y="319.90" font-size="7.4" font-family="Liberation Sans, sans-serif" fill="#000" >2.223,</text>
<text x="339.00" y="319.90" font-size="6.9" font-family="Liberation Serif, serif" fill="#000" >β</text>
<text x="344.90" y="319.90" font-size="6.9" font-family="Liberation Sans, sans-serif" fill="#000" >=</text>
<text x="353.60" y="319.90" font-size="7.4" font-family="Liberation Sans, sans-serif" fill="#000" >1.439,</text>
<text x="376.80" y="319.90" font-size="6.9" font-family="Liberation Serif, serif" fill="#000" >γ</text>
<text x="381.70" y="319.90" font-size="6.9" font-family="Liberation Sans, sans-serif" fill="#000" >=</text>
<text x="387.00" y="319.90" font-size="7.4" font-family="Liberation Sans, sans-serif" fill="#000" >0.0540</text>
<rect x="81.4" y="192.6" width="337.90" height="336.40" fill="none" stroke="#000" stroke-width="0.43"/>
<line x1="81.40" y1="523.63" x2="87.15" y2="523.63" stroke="#000" stroke-width="0.43" />
<line x1="419.30" y1="523.63" x2="413.55" y2="523.63" stroke="#000" stroke-width="0.43" />
<line x1="81.40" y1="515.57" x2="87.15" y2="515.57" stroke="#000" stroke-width="0.43" />
<line x1="419.30" y1="515.57" x2="413.55" y2="515.57" stroke="#000" stroke-width="0.43" />
<line x1="81.40" y1="507.51" x2="87.15" y2="507.51" stroke="#000" stroke-width="0.43" />
<line x1="419.30" y1="507.51" x2="413.55" y2="507.51" stroke="#000" stroke-width="0.43" />
<line x1="81.40" y1="499.46" x2="92.90" y2="499.46" stroke="#000" stroke-width="0.43" />
<line x1="419.30" y1="499.46" x2="407.80" y2="499.46" stroke="#000" stroke-width="0.43" />
<line x1="81.40" y1="491.40" x2="87.15" y2="491.40" stroke="#000" stroke-width="0.43" />
<line x1="419.30" y1="491.40" x2="413.55" y2="491.40" stroke="#000" stroke-width="0.43" />
<line x1="81.40" y1="483.34" x2="87.15" y2="483.34" stroke="#000" stroke-width="0.43" />
<line x1="419.30" y1="483.34" x2="413.55" y2="483.34" stroke="#000" stroke-width="0.43" />
<line x1="81.40" y1="475.28" x2="87.15" y2="475.28" stroke="#000" stroke-width="0.43" />
<line x1="419.30" y1="475.28" x2="413.55" y2="475.28" stroke="#000" stroke-width="0.43" />
<line x1="81.40" y1="467.23" x2="87.15" y2="467.23" stroke="#000" stroke-width="0.43" />
<line x1="419.30" y1="467.23" x2="413.55" y2="467.23" stroke="#000" stroke-width="0.43" />
<line x1="81.40" y1="459.17" x2="92.90" y2="459.17" stroke="#000" stroke-width="0.43" />
<line x1="419.30" y1="459.17" x2="407.80" y2="459.17" stroke="#000" stroke-width="0.43" />
<line x1="81.40" y1="451.11" x2="87.15" y2="451.11" stroke="#000" stroke-width="0.43" />
<line x1="419.30" y1="451.11" x2="413.55" y2="451.11" stroke="#000" stroke-width="0.43" />
<line x1="81.40" y1="443.06" x2="87.15" y2="443.06" stroke="#000" stroke-width="0.43" />
<line x1="419.30" y1="443.06" x2="413.55" y2="443.06" stroke="#000" stroke-width="0.43" />
<line x1="81.40" y1="435.00" x2="87.15" y2="435.00" stroke="#000" stroke-width="0.43" />
<line x1="419.30" y1="435.00" x2="413.55" y2="435.00" stroke="#000" stroke-width="0.43" />
<line x1="81.40" y1="426.94" x2="87.15" y2="426.94" stroke="#000" stroke-width="0.43" />
<line x1="419.30" y1="426.94" x2="413.55" y2="426.94" stroke="#000" stroke-width="0.43" />
<line x1="81.40" y1="418.88" x2="92.90" y2="418.88" stroke="#000" stroke-width="0.43" />
<line x1="419.30" y1="418.88" x2="407.80" y2="418.88" stroke="#000" stroke-width="0.43" />
<line x1="81.40" y1="410.83" x2="87.15" y2="410.83" stroke="#000" stroke-width="0.43" />
<line x1="419.30" y1="410.83" x2="413.55" y2="410.83" stroke="#000" stroke-width="0.43" />
<line x1="81.40" y1="402.77" x2="87.15" y2="402.77" stroke="#000" stroke-width="0.43" />
<line x1="419.30" y1="402.77" x2="413.55" y2="402.77" stroke="#000" stroke-width="0.43" />
<line x1="81.40" y1="394.71" x2="87.15" y2="394.71" stroke="#000" stroke-width="0.43" />
<line x1="419.30" y1="394.71" x2="413.55" y2="394.71" stroke="#000" stroke-width="0.43" />
<line x1="81.40" y1="386.66" x2="87.15" y2="386.66" stroke="#000" stroke-width="0.43" />
<line x1="419.30" y1="386.66" x2="413.55" y2="386.66" stroke="#000" stroke-width="0.43" />
<line x1="81.40" y1="378.60" x2="92.90" y2="378.60" stroke="#000" stroke-width="0.43" />
<line x1="419.30" y1="378.60" x2="407.80" y2="378.60" stroke="#000" stroke-width="0.43" />
<line x1="81.40" y1="370.54" x2="87.15" y2="370.54" stroke="#000" stroke-width="0.43" />
<line x1="419.30" y1="370.54" x2="413.55" y2="370.54" stroke="#000" stroke-width="0.43" />
<line x1="81.40" y1="362.49" x2="87.15" y2="362.49" stroke="#000" stroke-width="0.43" />
<line x1="419.30" y1="362.49" x2="413.55" y2="362.49" stroke="#000" stroke-width="0.43" />
<line x1="81.40" y1="354.43" x2="87.15" y2="354.43" stroke="#000" stroke-width="0.43" />
<line x1="419.30" y1="354.43" x2="413.55" y2="354.43" stroke="#000" stroke-width="0.43" />
<line x1="81.40" y1="346.37" x2="87.15" y2="346.37" stroke="#000" stroke-width="0.43" />
<line x1="419.30" y1="346.37" x2="413.55" y2="346.37" stroke="#000" stroke-width="0.43" />
<line x1="81.40" y1="338.32" x2="92.90" y2="338.32" stroke="#000" stroke-width="0.43" />
<line x1="419.30" y1="338.32" x2="407.80" y2="338.32" stroke="#000" stroke-width="0.43" />
<line x1="81.40" y1="330.26" x2="87.15" y2="330.26" stroke="#000" stroke-width="0.43" />
<line x1="419.30" y1="330.26" x2="413.55" y2="330.26" stroke="#000" stroke-width="0.43" />
<line x1="81.40" y1="322.20" x2="87.15" y2="322.20" stroke="#000" stroke-width="0.43" />
<line x1="419.30" y1="322.20" x2="413.55" y2="322.20" stroke="#000" stroke-width="0.43" />
<line x1="81.40" y1="314.14" x2="87.15" y2="314.14" stroke="#000" stroke-width="0.43" />
<line x1="419.30" y1="314.14" x2="413.55" y2="314.14" stroke="#000" stroke-width="0.43" />
<line x1="81.40" y1="306.09" x2="87.15" y2="306.09" stroke="#000" stroke-width="0.43" />
<line x1="419.30" y1="306.09" x2="413.55" y2="306.09" stroke="#000" stroke-width="0.43" />
<line x1="81.40" y1="298.03" x2="92.90" y2="298.03" stroke="#000" stroke-width="0.43" />
<line x1="419.30" y1="298.03" x2="407.80" y2="298.03" stroke="#000" stroke-width="0.43" />
<line x1="81.40" y1="289.97" x2="87.15" y2="289.97" stroke="#000" stroke-width="0.43" />
<line x1="419.30" y1="289.97" x2="413.55" y2="289.97" stroke="#000" stroke-width="0.43" />
<line x1="81.40" y1="281.92" x2="87.15" y2="281.92" stroke="#000" stroke-width="0.43" />
<line x1="419.30" y1="281.92" x2="413.55" y2="281.92" stroke="#000" stroke-width="0.43" />
<line x1="81.40" y1="273.86" x2="87.15" y2="273.86" stroke="#000" stroke-width="0.43" />
<line x1="419.30" y1="273.86" x2="413.55" y2="273.86" stroke="#000" stroke-width="0.43" />
<line x1="81.40" y1="265.80" x2="87.15" y2="265.80" stroke="#000" stroke-width="0.43" />
<line x1="419.30" y1="265.80" x2="413.55" y2="265.80" stroke="#000" stroke-width="0.43" />
<line x1="81.40" y1="257.75" x2="92.90" y2="257.75" stroke="#000" stroke-width="0.43" />
<line x1="419.30" y1="257.75" x2="407.80" y2="257.75" stroke="#000" stroke-width="0.43" />
<line x1="81.40" y1="249.69" x2="87.15" y2="249.69" stroke="#000" stroke-width="0.43" />
<line x1="419.30" y1="249.69" x2="413.55" y2="249.69" stroke="#000" stroke-width="0.43" />
<line x1="81.40" y1="241.63" x2="87.15" y2="241.63" stroke="#000" stroke-width="0.43" />
<line x1="419.30" y1="241.63" x2="413.55" y2="241.63" stroke="#000" stroke-width="0.43" />
<line x1="81.40" y1="233.57" x2="87.15" y2="233.57" stroke="#000" stroke-width="0.43" />
<line x1="419.30" y1="233.57" x2="413.55" y2="233.57" stroke="#000" stroke-width="0.43" />
<line x1="81.40" y1="225.52" x2="87.15" y2="225.52" stroke="#000" stroke-width="0.43" />
<line x1="419.30" y1="225.52" x2="413.55" y2="225.52" stroke="#000" stroke-width="0.43" />
<line x1="81.40" y1="217.46" x2="92.90" y2="217.46" stroke="#000" stroke-width="0.43" />
<line x1="419.30" y1="217.46" x2="407.80" y2="217.46" stroke="#000" stroke-width="0.43" />
<line x1="81.40" y1="209.40" x2="87.15" y2="209.40" stroke="#000" stroke-width="0.43" />
<line x1="419.30" y1="209.40" x2="413.55" y2="209.40" stroke="#000" stroke-width="0.43" />
<line x1="81.40" y1="201.35" x2="87.15" y2="201.35" stroke="#000" stroke-width="0.43" />
<line x1="419.30" y1="201.35" x2="413.55" y2="201.35" stroke="#000" stroke-width="0.43" />
<line x1="81.40" y1="193.29" x2="87.15" y2="193.29" stroke="#000" stroke-width="0.43" />
<line x1="419.30" y1="193.29" x2="413.55" y2="193.29" stroke="#000" stroke-width="0.43" />
<line x1="150.26" y1="529.00" x2="150.26" y2="517.50" stroke="#000" stroke-width="0.43" />
<line x1="150.26" y1="192.60" x2="150.26" y2="204.10" stroke="#000" stroke-width="0.43" />
<line x1="190.54" y1="529.00" x2="190.54" y2="523.25" stroke="#000" stroke-width="0.43" />
<line x1="190.54" y1="192.60" x2="190.54" y2="198.35" stroke="#000" stroke-width="0.43" />
<line x1="219.12" y1="529.00" x2="219.12" y2="523.25" stroke="#000" stroke-width="0.43" />
<line x1="219.12" y1="192.60" x2="219.12" y2="198.35" stroke="#000" stroke-width="0.43" />
<line x1="241.29" y1="529.00" x2="241.29" y2="517.50" stroke="#000" stroke-width="0.43" />
<line x1="241.29" y1="192.60" x2="241.29" y2="204.10" stroke="#000" stroke-width="0.43" />
<line x1="259.41" y1="529.00" x2="259.41" y2="523.25" stroke="#000" stroke-width="0.43" />
<line x1="259.41" y1="192.60" x2="259.41" y2="198.35" stroke="#000" stroke-width="0.43" />
<line x1="274.72" y1="529.00" x2="274.72" y2="523.25" stroke="#000" stroke-width="0.43" />
<line x1="274.72" y1="192.60" x2="274.72" y2="198.35" stroke="#000" stroke-width="0.43" />
<line x1="287.99" y1="529.00" x2="287.99" y2="523.25" stroke="#000" stroke-width="0.43" />
<line x1="287.99" y1="192.60" x2="287.99" y2="198.35" stroke="#000" stroke-width="0.43" />
<line x1="299.69" y1="529.00" x2="299.69" y2="523.25" stroke="#000" stroke-width="0.43" />
<line x1="299.69" y1="192.60" x2="299.69" y2="198.35" stroke="#000" stroke-width="0.43" />
<line x1="310.16" y1="529.00" x2="310.16" y2="517.50" stroke="#000" stroke-width="0.43" />
<line x1="310.16" y1="192.60" x2="310.16" y2="204.10" stroke="#000" stroke-width="0.43" />
<line x1="379.02" y1="529.00" x2="379.02" y2="517.50" stroke="#000" stroke-width="0.43" />
<line x1="379.02" y1="192.60" x2="379.02" y2="204.10" stroke="#000" stroke-width="0.43" />
<text x="75.60" y="502.56" font-size="11.4" font-family="Liberation Sans, sans-serif" fill="#000" text-anchor="end">−1.5</text>
<text x="75.60" y="462.27" font-size="11.4" font-family="Liberation Sans, sans-serif" fill="#000" text-anchor="end">−1.0</text>
<text x="75.60" y="421.99" font-size="11.4" font-family="Liberation Sans, sans-serif" fill="#000" text-anchor="end">−0.5</text>
<text x="75.60" y="381.70" font-size="11.4" font-family="Liberation Sans, sans-serif" fill="#000" text-anchor="end">0.0</text>
<text x="75.60" y="341.42" font-size="11.4" font-family="Liberation Sans, sans-serif" fill="#000" text-anchor="end">0.5</text>
<text x="75.60" y="301.13" font-size="11.4" font-family="Liberation Sans, sans-serif" fill="#000" text-anchor="end">1.0</text>
<text x="75.60" y="260.85" font-size="11.4" font-family="Liberation Sans, sans-serif" fill="#000" text-anchor="end">1.5</text>
<text x="75.60" y="220.56" font-size="11.4" font-family="Liberation Sans, sans-serif" fill="#000" text-anchor="end">2.0</text>
<text x="81.40" y="543.10" font-size="11.4" font-family="Liberation Sans, sans-serif" fill="#000" text-anchor="middle">1</text>
<text x="150.26" y="543.10" font-size="11.4" font-family="Liberation Sans, sans-serif" fill="#000" text-anchor="middle">2</text>
<text x="241.29" y="543.10" font-size="11.4" font-family="Liberation Sans, sans-serif" fill="#000" text-anchor="middle">5</text>
<text x="310.16" y="543.10" font-size="11.4" font-family="Liberation Sans, sans-serif" fill="#000" text-anchor="middle">10</text>
<text x="379.02" y="543.10" font-size="11.4" font-family="Liberation Sans, sans-serif" fill="#000" text-anchor="middle">20</text>
<text x="251.80" y="564.40" font-size="11.7" font-family="Liberation Sans, sans-serif" fill="#000" text-anchor="middle">Wavelength (<tspan font-family="Liberation Serif, serif">μ</tspan>m)</text>
<text x="250.50" y="188.90" font-size="15.3" font-family="Liberation Sans, sans-serif" fill="#000" text-anchor="middle">SS 215</text>
<g transform="translate(34.9,394.6) rotate(-90)"><text transform="translate(0,0) scale(0.95,1.1)" x="0" y="0" font-size="11.4" font-family="Liberation Serif, serif" font-style="italic">A</text><text x="7.0" y="2.8" font-size="8.4" font-family="Liberation Serif, serif">λ</text><rect x="15.1" y="-3.7" width="5.7" height="0.9" fill="#000"/><text transform="translate(24.5,0) scale(0.95,1.1)" x="0" y="0" font-size="11.4" font-family="Liberation Serif, serif" font-style="italic">A</text><text x="31.3" y="3.0" font-size="7.2" font-family="Liberation Serif, serif" font-style="italic">H</text><text x="41.0" y="0" font-size="11.2" font-family="Liberation Sans, sans-serif">(mag)</text></g>
</svg>
</body></html>
